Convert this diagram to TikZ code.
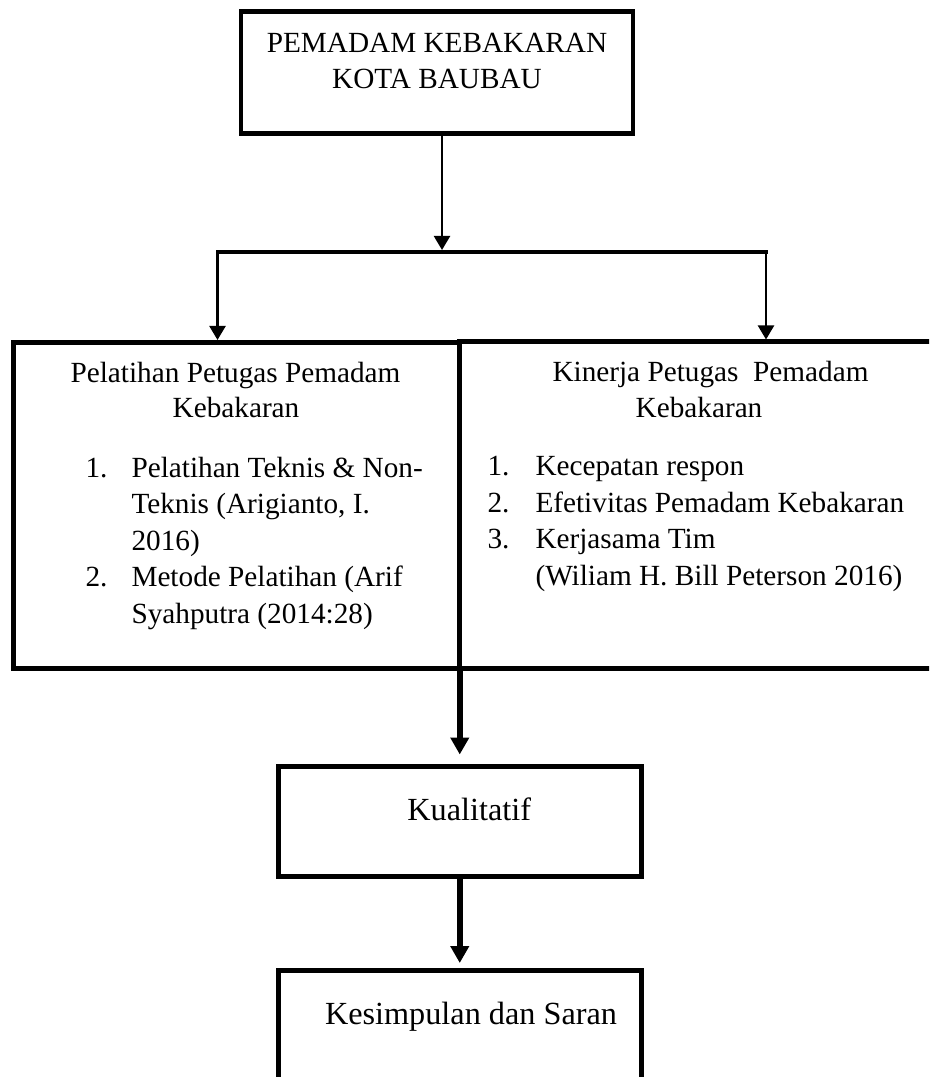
\documentclass[tikz,border=0pt]{standalone}
\usepackage{fontspec}
\setmainfont{Liberation Serif}
\usetikzlibrary{arrows.meta}
\begin{document}
\begin{tikzpicture}[x=0.4pt,y=-0.4pt,
  box/.style={draw, line width=2pt, rectangle, inner sep=0pt},
  txt/.style={anchor=base, inner sep=0pt, font=\fontsize{11.7pt}{14.4pt}\selectfont},
  txtl/.style={txt, anchor=base west},
  bigtxt/.style={txt, font=\fontsize{12.9pt}{15pt}\selectfont},
  thinarrow/.style={line width=0.9pt, -{Triangle[width=6.4pt,length=5.6pt]}},
  thickarrow/.style={line width=2.2pt, -{Triangle[width=7.2pt,length=6.8pt]}},
  bar/.style={line width=1.6pt, line cap=rect}]
\useasboundingbox (0,0) rectangle (929,1077);
\clip (0,0) rectangle (929,1077);

% boxes
\node[box, line width=1.9pt, minimum width=156.8pt, minimum height=48.72pt] (top) at (437,72.6) {};
\node[box, minimum width=178.2pt, minimum height=130.4pt] (left) at (236.25,505.5) {};
\node[box, minimum width=192.4pt, minimum height=130.4pt] (right) at (699.5,505) {};
\node[box, minimum width=145.4pt, minimum height=44pt] (kual) at (459.75,821) {};
\node[box, minimum width=145.4pt, minimum height=48pt] (kes) at (459.75,1030.5) {};

% top box text
\node[txt] (t1) at (437,53) {PEMADAM KEBAKARAN};
\node[txt] (t2) at (437,89) {KOTA BAUBAU};

% left box text
\node[txt] (l1) at (235.5,383) {Pelatihan Petugas Pemadam};
\node[txt] (l2) at (236,418) {Kebakaran};
\node[txtl] (ln1) at (85,477) {1.};
\node[txtl] (la) at (131,477) {Pelatihan Teknis \& Non-};
\node[txtl] (lb) at (131,513) {Teknis (Arigianto, I.};
\node[txtl] (lc) at (131,550) {2016)};
\node[txtl] (ln2) at (85,586) {2.};
\node[txtl] (ld) at (131,586) {Metode Pelatihan (Arif};
\node[txtl] (le) at (131,623) {Syahputra (2014:28)};

% right box text
\node[txtl] (r1) at (552,382) {Kinerja Petugas\ \ Pemadam};
\node[txt] (r2) at (699,418) {Kebakaran};
\node[txtl] (rn1) at (487,476) {1.};
\node[txtl] (ra) at (535,476) {Kecepatan respon};
\node[txtl] (rn2) at (487,512.5) {2.};
\node[txtl] (rb) at (535,512.5) {Efetivitas Pemadam Kebakaran};
\node[txtl] (rn3) at (487,548.5) {3.};
\node[txtl] (rc) at (535,548.5) {Kerjasama Tim};
\node[txtl] (rd) at (535,585) {(Wiliam H. Bill Peterson 2016)};

% bottom texts
\node[bigtxt] (k1) at (469.2,820) {Kualitatif};
\node[bigtxt] (k2) at (471,1024) {Kesimpulan dan Saran};

% connectors
\coordinate (jc) at (442,250);
\coordinate (jl) at (217.5,252);
\coordinate (jr) at (766,252);
\draw[thinarrow] (top.south -| jc) -- (jc);
\draw[bar] (jl) -- (jr);
\draw[thinarrow] (jl) -- (jl |- left.north);
\draw[thinarrow] (jr) -- (jr |- right.north);
\draw[thickarrow, shorten >=3.6pt] (kual.north |- left.south) -- (kual.north);
\draw[thickarrow, shorten >=2pt] (kual.south) -- (kes.north);
\end{tikzpicture}
\end{document}
